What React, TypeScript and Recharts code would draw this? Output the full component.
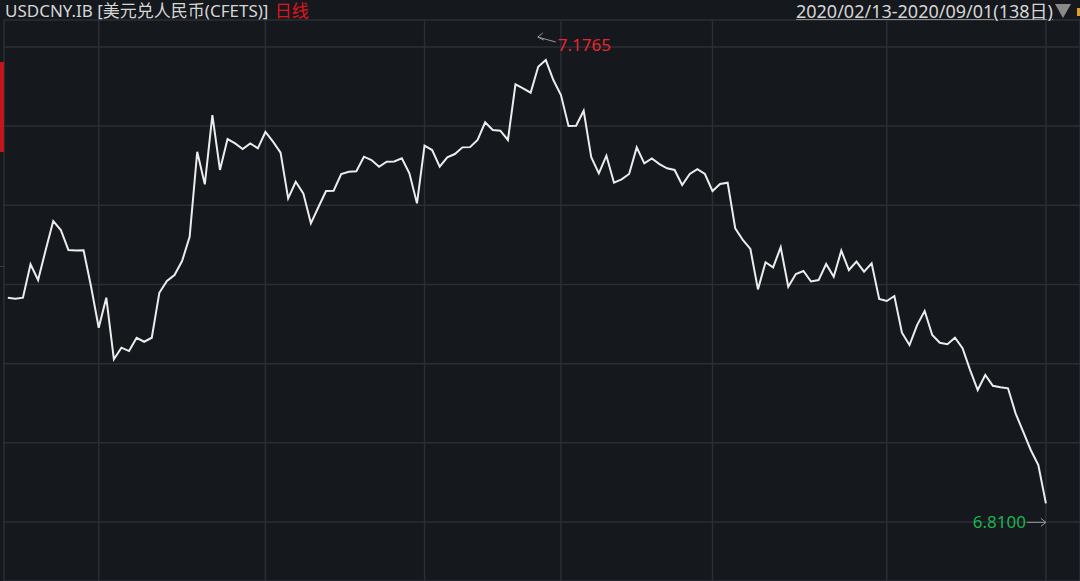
import { CartesianGrid, Line, LineChart, ReferenceDot, XAxis, YAxis } from 'recharts'

// USDCNY daily fix, 2020/02/13 - 2020/09/01, 138 trading days
const rates = [
  6.9800, 6.9792, 6.9800, 7.0076, 6.9946, 7.0194, 7.0434, 7.0360, 7.0195, 7.0190,
  7.0192, 6.9888, 6.9552, 6.9800, 6.9291, 6.9387, 6.9359, 6.9469, 6.9436, 6.9469,
  6.9841, 6.9938, 6.9988, 7.0103, 7.0304, 7.1007, 7.0737, 7.1310, 7.0856, 7.1112,
  7.1076, 7.1029, 7.1076, 7.1035, 7.1170, 7.1090, 7.0999, 7.0622, 7.0759, 7.0663,
  7.0415, 7.0550, 7.0682, 7.0685, 7.0823, 7.0842, 7.0845, 7.0966, 7.0938, 7.0883,
  7.0924, 7.0926, 7.0952, 7.0828, 7.0580, 7.1057, 7.1021, 7.0883, 7.0961, 7.0988,
  7.1043, 7.1045, 7.1104, 7.1250, 7.1186, 7.1181, 7.1104, 7.1564, 7.1531, 7.1495,
  7.1710, 7.1765, 7.1600, 7.1476, 7.1220, 7.1222, 7.1346, 7.0961, 7.0828, 7.0974,
  7.0751, 7.0779, 7.0823, 7.1043, 7.0911, 7.0952, 7.0905, 7.0870, 7.0856, 7.0732,
  7.0823, 7.0862, 7.0823, 7.0682, 7.0740, 7.0751, 7.0374, 7.0277, 7.0203, 6.9869,
  7.0093, 7.0051, 7.0217, 6.9891, 6.9996, 7.0021, 6.9934, 6.9946, 7.0079, 6.9974,
  7.0189, 7.0029, 7.0098, 7.0015, 7.0084, 6.9789, 6.9773, 6.9814, 6.9511, 6.9409,
  6.9574, 6.9690, 6.9492, 6.9428, 6.9415, 6.9469, 6.9382, 6.9202, 6.9037, 6.9161,
  6.9072, 6.9059, 6.9051, 6.8844, 6.8692, 6.8541, 6.8417, 6.8100,
]

// first trading day of each month (index into rates), plus the left border
const monthStarts = [-0.5, 12, 34, 55, 73, 93, 116, 137]
const priceTicks = [7.1873, 7.1219, 7.0564, 6.9910, 6.9255, 6.8601, 6.7946]

const symbol = 'USDCNY.IB [美元兑人民币(CFETS)]'
const period = '日线'
const range = '2020/02/13-2020/09/01(138日)'

const data = rates.map((v, i) => ({ i, v }))
const maxIdx = rates.indexOf(Math.max(...rates))
const minIdx = rates.indexOf(Math.min(...rates))

const BG = '#15181d'
const GRID = '#2b2e34'
const FONT = '"Noto Sans", "Noto Sans CJK SC", sans-serif'

function MaxMark(p: any) {
  const { cx, cy } = p
  return (
    <g>
      <line x1={cx + 10} y1={cy - 18} x2={cx - 8} y2={cy - 23} stroke="#9a9a9a" strokeWidth={1} />
      <path d={`M${cx - 3} ${cy - 27} L${cx - 8} ${cy - 23} L${cx - 2} ${cy - 20}`} stroke="#9a9a9a" fill="none" strokeWidth={1} />
      <text x={cx + 12} y={cy - 9} fill="#e8262e" fontSize={17} fontFamily={FONT}>{rates[maxIdx].toFixed(4)}</text>
    </g>
  )
}

function MinMark(p: any) {
  const { cx, cy } = p
  return (
    <g>
      <line x1={cx - 19} y1={cy + 19} x2={cx} y2={cy + 19} stroke="#9a9a9a" strokeWidth={1} />
      <path d={`M${cx - 5} ${cy + 15} L${cx} ${cy + 19} L${cx - 5} ${cy + 23}`} stroke="#9a9a9a" fill="none" strokeWidth={1} />
      <text x={cx - 20} y={cy + 25} textAnchor="end" fill="#1db34f" fontSize={17} fontFamily={FONT}>{rates[minIdx].toFixed(4)}</text>
    </g>
  )
}

export default function App() {
  return (
    <div style={{ position: 'fixed', left: 0, top: 0, width: 1080, height: 581, background: BG, overflow: 'hidden', fontFamily: FONT }}>
      <LineChart width={1080} height={581} data={data} margin={{ top: 20, left: 4, right: 0, bottom: 0 }}>
        <CartesianGrid stroke={GRID} strokeWidth={1.5} />
        <XAxis dataKey="i" type="number" domain={[-0.5, 141.5]} ticks={monthStarts} hide />
        <YAxis type="number" domain={[6.7458, 7.2096]} ticks={priceTicks} hide />
        <Line dataKey="v" stroke="#ececec" strokeWidth={2} dot={false} isAnimationActive={false} />
        <ReferenceDot x={maxIdx} y={rates[maxIdx]} r={0} shape={MaxMark} />
        <ReferenceDot x={minIdx} y={rates[minIdx]} r={0} shape={MinMark} />
      </LineChart>
      <div style={{ position: 'absolute', left: 5, top: 0, fontSize: 17, lineHeight: '22px', color: '#d6d6d6', whiteSpace: 'nowrap' }}>
        {symbol} <span style={{ color: '#e0141e', marginLeft: 2 }}>{period}</span>
      </div>
      <div style={{ position: 'absolute', right: 27, top: 0, fontSize: 18, lineHeight: '22px', color: '#d6d6d6', whiteSpace: 'nowrap', textDecoration: 'underline', textDecorationColor: '#8a8a8a' }}>
        {range}
      </div>
      <div style={{ position: 'absolute', left: 1055, top: 4, width: 0, height: 0, borderLeft: '8px solid transparent', borderRight: '8px solid transparent', borderTop: '14px solid #8a8a8a' }} />
      <div style={{ position: 'absolute', left: 1077, top: 8, width: 4, height: 8, background: '#e0a020' }} />
      <div style={{ position: 'absolute', left: 0, top: 62, width: 4, height: 90, background: '#c0161c' }} />
      <div style={{ position: 'absolute', left: 0, top: 266, width: 4, height: 1, background: '#3a3d43' }} />
    </div>
  )
}
